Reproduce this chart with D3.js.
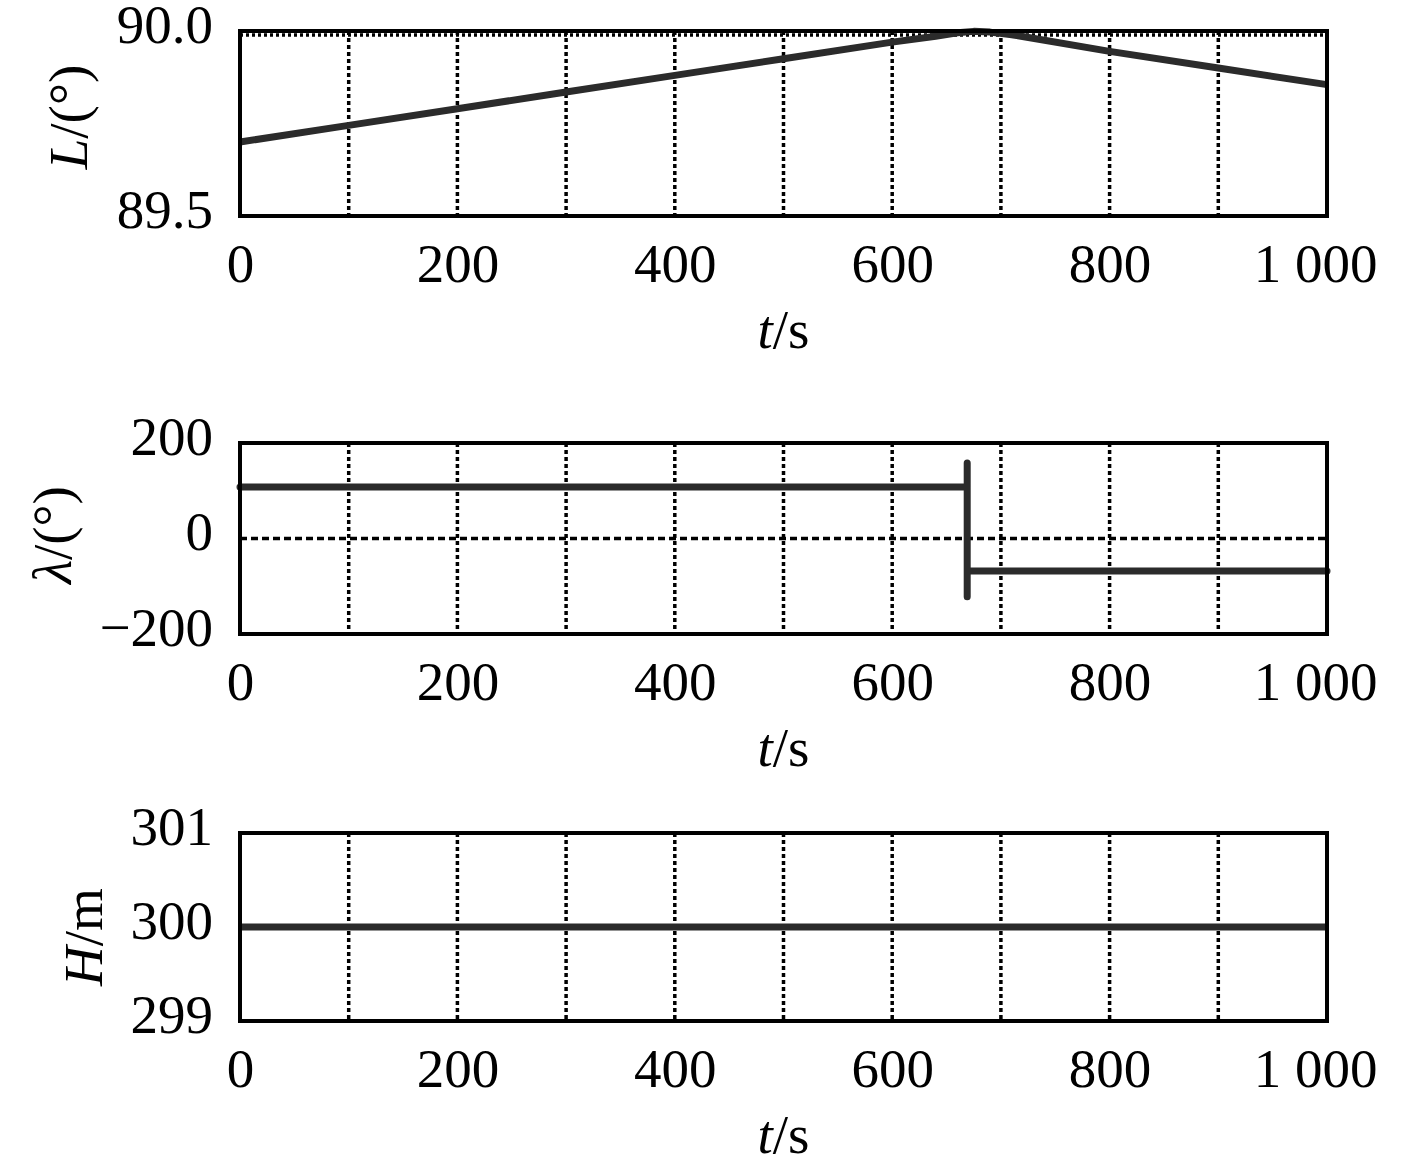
<!DOCTYPE html>
<html>
<head>
<meta charset="utf-8">
<script src="https://cdn.jsdelivr.net/npm/d3@7"></script>
<style>
  body { margin: 0; background: #fff; }
  text { font-family: "Times New Roman", "Liberation Serif", serif; fill: #000; }
</style>
</head>
<body>
<script>
'use strict';

// x ticks shared by all three panels
const timeTicks = [0, 200, 400, 600, 800, 1000];
const timeGrid = [100, 200, 300, 400, 500, 600, 700, 800, 900];

// latitude L (deg)
const timeL = [0, 100, 200, 300, 400, 500, 600, 640, 660, 675, 690, 710, 800, 900, 1000];
const latL = [89.70, 89.745, 89.79, 89.835, 89.88, 89.925, 89.97, 89.986, 89.995, 89.999, 89.997, 89.99, 89.945, 89.90, 89.855];
const latTicks = [89.5, 90.0];

// longitude lambda (deg)
const timeLam = [0, 669, 669, 669, 669, 1000];
const lam = [108, 108, 158, -122, -68, -68];
const lamTicks = [-200, 0, 200];

// height H (m)
const timeH = [0, 1000];
const heightH = [300, 300];
const hTicks = [299, 300, 301];

const W = 1417, H = 1161;
const left = 240, right = 1327;

const svg = d3.select('body').append('svg')
  .attr('width', W)
  .attr('height', H);

const x = d3.scaleLinear().domain([0, 1000]).range([left, right]);

function drawPanel(cfg) {
  const y = d3.scaleLinear().domain(cfg.domain).range([cfg.bottom, cfg.top]);
  const g = svg.append('g');

  // vertical grid
  g.selectAll('.vgrid')
    .data(timeGrid)
    .enter().append('line')
    .attr('x1', d => x(d)).attr('x2', d => x(d))
    .attr('y1', cfg.top).attr('y2', cfg.bottom)
    .attr('stroke', '#000')
    .attr('stroke-width', 3.5)
    .attr('stroke-dasharray', '4,3');

  // horizontal grid
  g.selectAll('.hgrid')
    .data(cfg.hgrid)
    .enter().append('line')
    .attr('x1', left).attr('x2', right)
    .attr('y1', d => y(d) + cfg.hgridShift).attr('y2', d => y(d) + cfg.hgridShift)
    .attr('stroke', '#000')
    .attr('stroke-width', 3.5)
    .attr('stroke-dasharray', cfg.hdash);

  // data line
  const pts = cfg.xs.map((t, i) => [t, cfg.ys[i]]);
  g.append('path')
    .datum(pts)
    .attr('d', d3.line().x(d => x(d[0])).y(d => y(d[1])))
    .attr('fill', 'none')
    .attr('stroke', '#2b2b2b')
    .attr('stroke-width', 7)
    .attr('stroke-linecap', cfg.cap)
    .attr('stroke-linejoin', 'round');

  // frame
  g.append('rect')
    .attr('x', left).attr('y', cfg.top)
    .attr('width', right - left).attr('height', cfg.bottom - cfg.top)
    .attr('fill', 'none')
    .attr('stroke', '#000')
    .attr('stroke-width', 4);

  // x axis
  const xAxis = d3.axisBottom(x)
    .tickValues(timeTicks)
    .tickSize(0)
    .tickPadding(27)
    .tickFormat(d => d === 1000 ? '1 000' : d);
  const gx = g.append('g')
    .attr('transform', 'translate(0,' + cfg.bottom + ')')
    .call(xAxis);
  gx.select('.domain').remove();
  gx.selectAll('text')
    .style('font-size', '55px')
    .style('font-family', '"Times New Roman", "Liberation Serif", serif')
    .attr('fill', '#000')
    .attr('dx', d => d === 1000 ? '-12px' : 0);

  // y axis
  const yAxis = d3.axisLeft(y)
    .tickValues(cfg.ticks)
    .tickSize(0)
    .tickPadding(27)
    .tickFormat(cfg.fmt);
  const gy = g.append('g')
    .attr('transform', 'translate(' + left + ',0)')
    .call(yAxis);
  gy.select('.domain').remove();
  gy.selectAll('text')
    .style('font-size', '55px')
    .style('font-family', '"Times New Roman", "Liberation Serif", serif')
    .attr('fill', '#000')
    .attr('dy', '0.2em');

  // x label  t/s
  const xl = g.append('text')
    .attr('x', (left + right) / 2)
    .attr('y', cfg.bottom + 132)
    .attr('text-anchor', 'middle')
    .style('font-size', '55px');
  xl.append('tspan').style('font-style', 'italic').text('t');
  xl.append('tspan').text('/s');

  // y label
  const yl = g.append('text')
    .attr('transform', 'translate(' + cfg.labelX + ',' + cfg.labelY + ')rotate(-90)')
    .attr('text-anchor', 'middle')
    .style('font-size', '55px');
  yl.append('tspan').style('font-style', cfg.symItalic ? 'italic' : 'normal').text(cfg.sym);
  yl.append('tspan').text(cfg.unit);
}

drawPanel({
  top: 31, bottom: 216, domain: [89.5, 90.0],
  xs: timeL, ys: latL, ticks: latTicks, fmt: d3.format('.1f'),
  hgrid: [90.0], hgridShift: 4, hdash: '3,3', cap: 'butt',
  sym: 'L', symItalic: true, unit: '/(°)', labelX: 87, labelY: 117
});

drawPanel({
  top: 443, bottom: 634, domain: [-200, 200],
  xs: timeLam, ys: lam, ticks: lamTicks, fmt: d3.format('d'),
  hgrid: [0], hgridShift: 0, hdash: '7,4', cap: 'round',
  sym: 'λ', symItalic: true, unit: '/(°)', labelX: 71, labelY: 535
});

drawPanel({
  top: 833, bottom: 1021, domain: [299, 301],
  xs: timeH, ys: heightH, ticks: hTicks, fmt: d3.format('d'),
  hgrid: [300], hgridShift: 0, hdash: '7,4', cap: 'butt',
  sym: 'H', symItalic: true, unit: '/m', labelX: 102, labelY: 937
});
</script>
</body>
</html>
